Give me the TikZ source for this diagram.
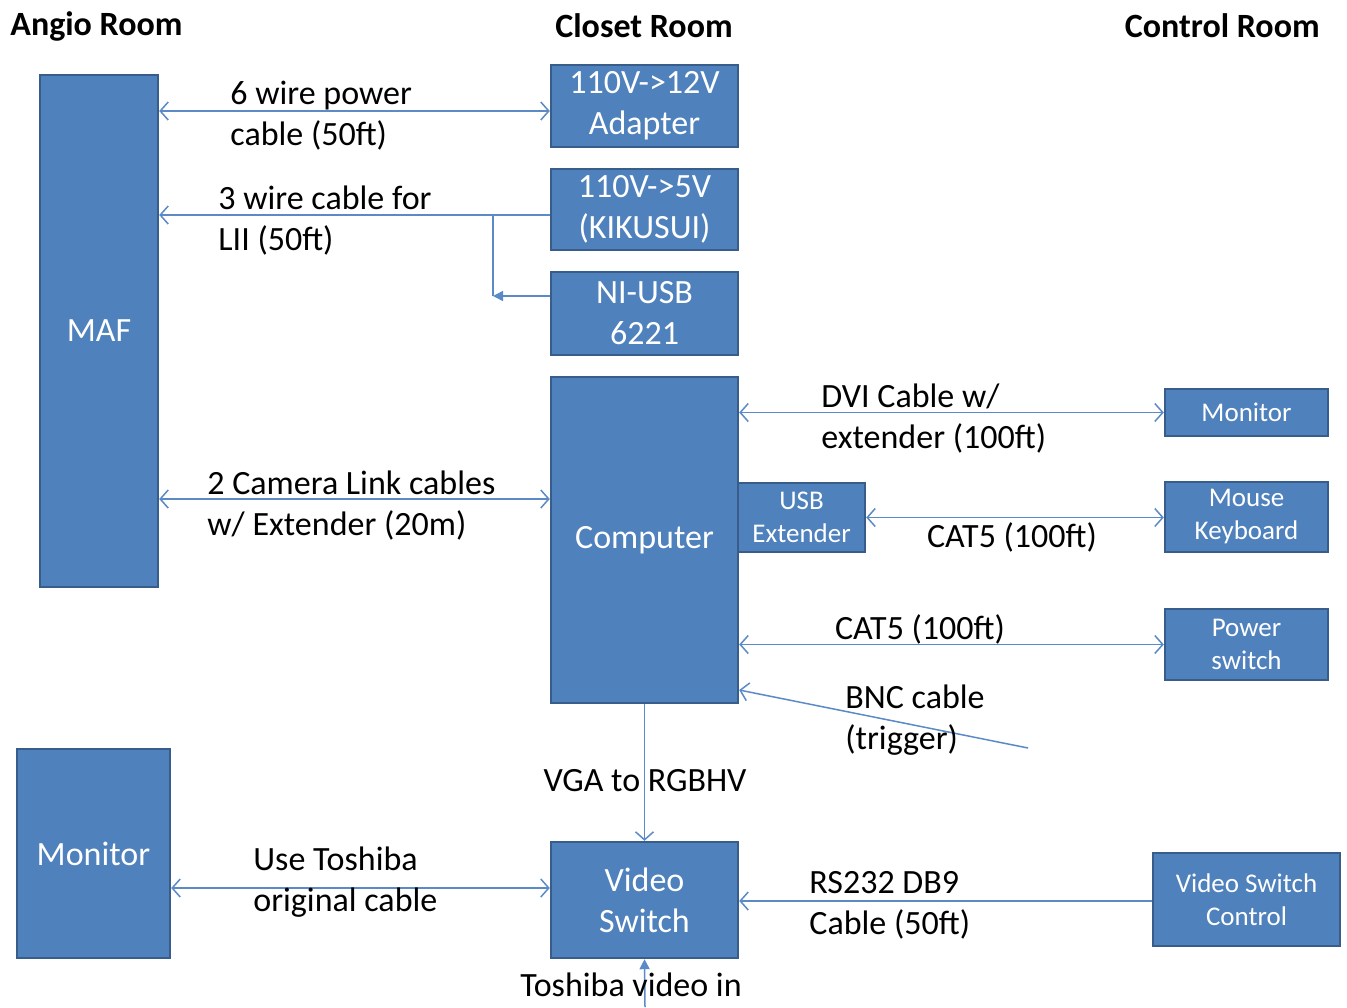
\documentclass[tikz,border=0pt]{standalone}
\usepackage{fontspec}
\setmainfont{Carlito}
\usepackage{xcolor}
\usepackage{tikz}
\usetikzlibrary{positioning,arrows.meta}

\definecolor{boxfill}{HTML}{4F81BD}
\definecolor{boxline}{HTML}{385D8A}
\definecolor{wire}{HTML}{5B8AC6}

\begin{document}
\begin{tikzpicture}[
        x=0.5pt, y=-0.5pt,
        font=\fontsize{17}{20.5}\selectfont,
        box/.style={draw=boxline, fill=boxfill, line width=1.2pt, text=white,
                    align=center, inner sep=0pt},
        sbox/.style={box, font=\fontsize{13.5}{16.5}\selectfont},
        lbl/.style={align=left, inner sep=0pt, anchor=west, yshift=-1.5pt},
        ctr/.style={inner sep=0pt, yshift=-1.5pt},
        room/.style={font=\fontsize{17}{20.5}\selectfont\bfseries, inner sep=0pt, yshift=-1pt},
        cable/.style={draw=wire, line width=0.75pt},
        dbl/.style={cable, {Straight Barb[length=4pt,width=9pt]}-{Straight Barb[length=4pt,width=9pt]}},
        sgl/.style={cable, -{Straight Barb[length=4pt,width=9pt]}},
        fil/.style={cable, -{Triangle[length=5pt,width=5pt]}}
    ]
    \useasboundingbox (0,0) rectangle (1347,1007);

    % ---- Room headers ----
    \node[room, anchor=west] (angio) at (10,24) {Angio Room};
    \node[room] (closet) at (644,24) {Closet Room};
    \node[room, anchor=east] (control) at (1320,24) {Control Room};

    % ---- Angio Room ----
    \node[box, minimum width=59pt, minimum height=256pt] (maf) at (99,331) {MAF};
    \node[box, minimum width=76.5pt, minimum height=104.5pt] (monl) at (93.5,853.5) {Monitor};

    % ---- Closet Room ----
    \node[box, minimum width=93.5pt, minimum height=41pt] (adapter) at (644.5,106) {110V->12V\\Adapter};
    \node[box, minimum width=93.5pt, minimum height=40.5pt] (kikusui) at (644.5,209.5) {110V->5V\\(KIKUSUI)};
    \node[box, minimum width=93.5pt, minimum height=41.5pt] (niusb) at (644.5,313.5) {NI-USB\\6221};
    \node[box, minimum width=93.5pt, minimum height=163pt] (comp) at (644.5,540) {Computer};
    \node[sbox, minimum width=63.5pt, minimum height=34.5pt] (usbext) at (801.5,517.5) {USB\\Extender};
    \node[box, minimum width=93.5pt, minimum height=58pt] (vswitch) at (644.5,900) {Video\\Switch};

    % ---- Control Room ----
    \node[sbox, minimum width=81.5pt, minimum height=23.5pt] (monr) at (1246.5,412.5) {Monitor};
    \node[sbox, minimum width=81.5pt, minimum height=35pt] (mouse) at (1246.5,517) {Mouse\\Keyboard};
    \node[sbox, minimum width=81.5pt, minimum height=35.5pt] (pswitch) at (1246.5,644.5) {Power\\switch};
    \node[sbox, minimum width=93.5pt, minimum height=46.5pt] (vsctrl) at (1246.5,899.5) {Video Switch\\Control};

    % ---- Cables ----
    \draw[dbl] (maf.east |- 0,111) -- (adapter.west |- 0,111);
    \draw[sgl] (kikusui.west |- 0,215) -- (maf.east |- 0,215);
    \coordinate (tap) at (493,215);
    \coordinate (tapend) at (493,296);
    \draw[cable] (tap) -- (tapend);
    \draw[fil] (niusb.west |- tapend) -- (tapend);
    \draw[dbl] (maf.east |- 0,499) -- (comp.west |- 0,499);
    \draw[dbl] (comp.east |- monr.west) -- (monr.west);
    \draw[dbl] (usbext.east) -- (mouse.west |- usbext.east);
    \draw[dbl] (comp.east |- pswitch.west) -- (pswitch.west);
    \coordinate (bncend) at (1028,748);
    \draw[sgl] (bncend) -- (comp.east |- 0,690);
    \draw[sgl] (comp.south) -- (vswitch.north);
    \draw[dbl] (monl.east |- 0,888) -- (vswitch.west |- 0,888);
    \draw[sgl] (vsctrl.west |- 0,901) -- (vswitch.east |- 0,901);
    \coordinate (tvin) at (645,1007);
    \draw[fil] (tvin) -- (vswitch.south);

    % ---- Cable labels ----
    \node[lbl] (l6wire) at (230,112.5) {6 wire power\\cable (50ft)};
    \node[lbl] (l3wire) at (218,217.5) {3 wire cable for\\LII (50ft)};
    \node[lbl] (lcam) at (207,502.5) {2 Camera Link cables\\w/ Extender (20m)};
    \node[lbl] (ldvi) at (821,415.5) {DVI Cable w/\\extender (100ft)};
    \node[ctr] (lcat5a) at (1012,534) {CAT5 (100ft)};
    \node[ctr] (lcat5b) at (920,626) {CAT5 (100ft)};
    \node[lbl] (lbnc) at (845,717.5) {BNC cable\\(trigger)};
    \node[ctr] (lvga) at (645,778) {VGA to RGBHV};
    \node[lbl] (ltosh) at (253,879.5) {Use Toshiba\\original cable};
    \node[lbl] (lrs) at (809,902.5) {RS232 DB9\\Cable (50ft)};
    \node[inner sep=0pt] (ltvin) at (631,985) {Toshiba video in};
\end{tikzpicture}
\end{document}
